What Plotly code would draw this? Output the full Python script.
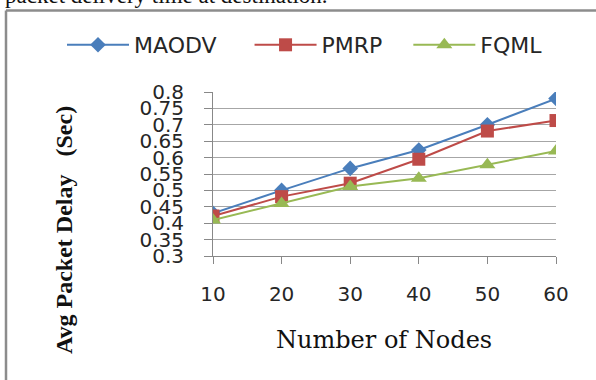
import plotly.graph_objects as go

nodes = [10, 20, 30, 40, 50, 60]
maodv = [0.43, 0.50, 0.567, 0.623, 0.70, 0.78]
pmrp = [0.422, 0.481, 0.522, 0.595, 0.681, 0.713]
fqml = [0.41, 0.46, 0.512, 0.537, 0.578, 0.62]
y_ticks = [0.3, 0.35, 0.4, 0.45, 0.5, 0.55, 0.6, 0.65, 0.7, 0.75, 0.8]
y_tick_labels = ["0.3", "0.35", "0.4", "0.45", "0.5", "0.55", "0.6", "0.65", "0.7", "0.75", "0.8"]
series_names = ["MAODV", "PMRP", "FQML"]
x_title = "Number of Nodes"
y_title = "Avg Packet Delay &nbsp; (Sec)"
caption = "packet delivery time at destination."

W, H = 596, 380
L, R, T, B = 213, 556, 92, 256


def px(xp):
    return (xp - L) / (R - L)


def py(yp):
    return (B - yp) / (B - T)


fig = go.Figure()
styles = [
    ("#4a7ebb", "diamond", 12, "&nbsp;" * 4),
    ("#be4b48", "square", 13, "&nbsp;" * 3),
    ("#98b954", "triangle-up", 14, ""),
]
for name, vals, (col, sym, sz, pad) in zip(series_names, [maodv, pmrp, fqml], styles):
    fig.add_trace(go.Scatter(
        x=nodes, y=vals, name=name + pad, mode="lines+markers",
        line=dict(color=col, width=2),
        marker=dict(symbol=sym, size=sz, color=col),
        hovertemplate=name + ": %{y}<extra></extra>",
    ))

grid = "#a6a6a6"
fig.update_layout(
    width=W, height=H,
    margin=dict(l=L, r=W - R, t=T, b=H - B, pad=0, autoexpand=False),
    paper_bgcolor="white", plot_bgcolor="white",
    showlegend=True,
    legend=dict(
        orientation="h", x=px(62), y=py(45), xanchor="left", yanchor="middle",
        font=dict(family="DejaVu Sans", size=22, color="#262626"),
        itemwidth=62, bgcolor="rgba(0,0,0,0)",
    ),
    xaxis=dict(
        range=[10, 60], tickvals=nodes, ticks="outside", ticklen=7, tickcolor="#888888",
        showline=True, linecolor="#888888", linewidth=1, showgrid=False, zeroline=False,
        tickfont=dict(family="DejaVu Sans", size=20, color="#262626"),
        ticklabelstandoff=13,
    ),
    yaxis=dict(
        range=[0.3, 0.8], tickvals=y_ticks, ticktext=y_tick_labels, ticks="outside",
        ticklen=8, tickcolor="#888888", showline=True, linecolor="#888888", linewidth=1,
        showgrid=True, gridcolor=grid, gridwidth=1, zeroline=False,
        tickfont=dict(family="DejaVu Sans", size=20, color="#262626"),
        ticklabelstandoff=16,
    ),
    annotations=[
        dict(text=x_title, xref="paper", yref="paper", x=px(384), y=py(340),
             xanchor="center", yanchor="middle", showarrow=False,
             font=dict(family="DejaVu Serif", size=24, color="#111111")),
        dict(text="<b>" + y_title + "</b>", xref="paper", yref="paper", x=px(64), y=py(230),
             xanchor="center", yanchor="middle", showarrow=False, textangle=-90,
             font=dict(family="Liberation Serif", size=24, color="#111111")),
        dict(text=caption, xref="paper", yref="paper", x=px(3), y=py(-4),
             xanchor="left", yanchor="middle", showarrow=False,
             font=dict(family="Liberation Serif", size=23, color="#111111")),
    ],
    shapes=[
        dict(type="line", xref="paper", yref="paper", x0=px(6), x1=px(620), y0=py(10.5), y1=py(10.5),
             line=dict(color="#8c8c8c", width=2.5)),
        dict(type="line", xref="paper", yref="paper", x0=px(6), x1=px(6), y0=py(10.5), y1=py(400),
             line=dict(color="#8c8c8c", width=2.5)),
    ],
)

fig.write_html("out.html")
